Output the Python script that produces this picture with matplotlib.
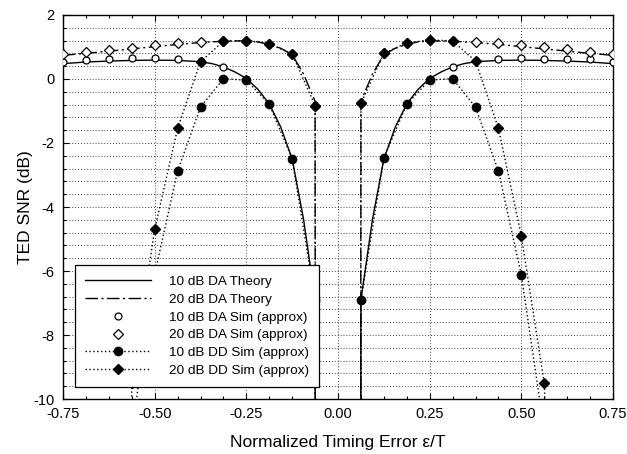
import matplotlib
matplotlib.use("Agg")
from matplotlib import pyplot as plt
from matplotlib.ticker import MultipleLocator, FormatStrFormatter
import numpy

plt.rcParams['font.family'] = ['Liberation Sans', 'DejaVu Sans']
plt.rcParams['axes.unicode_minus'] = False

# simulation x positions (normalized timing error)
sim_x = [-0.75, -0.6875, -0.625, -0.5625, -0.5, -0.4375, -0.375, -0.3125, -0.25, -0.1875, -0.125, -0.0625,
         0.0625, 0.125, 0.1875, 0.25, 0.3125, 0.375, 0.4375, 0.5, 0.5625, 0.625, 0.6875, 0.75]

# data aided sims (open markers)
da10_sim = [0.54, 0.59, 0.62, 0.65, 0.65, 0.62, 0.56, 0.36, 0.01, -0.79, -2.5, -6.9,
            -6.9, -2.47, -0.79, 0.0, 0.36, 0.56, 0.64, 0.67, 0.64, 0.64, 0.61, 0.54]
da20_sim = [0.77, 0.83, 0.91, 0.98, 1.05, 1.11, 1.17, 1.18, 1.20, 1.10, 0.78, -0.83,
            -0.76, 0.80, 1.13, 1.22, 1.19, 1.17, 1.13, 1.06, 0.99, 0.93, 0.85, 0.78]

# decision directed sims (filled markers), x=0 goes to -inf
dd_x = [-0.625, -0.5625, -0.5, -0.4375, -0.375, -0.3125, -0.25, -0.1875, -0.125, -0.0625, 0.0,
        0.0625, 0.125, 0.1875, 0.25, 0.3125, 0.375, 0.4375, 0.5, 0.5625, 0.625]
dd10_sim = [-30, -11.0, -6.1, -2.875, -0.88, 0.01, -0.04, -0.79, -2.5, -6.9, -1000,
            -6.9, -2.47, -0.79, -0.03, 0.01, -0.88, -2.875, -6.13, -11.0, -30]
dd20_sim = [-60, -9.5, -4.70, -1.54, 0.54, 1.18, 1.20, 1.10, 0.78, -0.83, -1000,
            -0.76, 0.80, 1.13, 1.22, 1.19, 0.56, -1.54, -4.91, -9.51, -30]

# theory curves
th_x = [-0.75, -0.6875, -0.625, -0.5625, -0.5, -0.4375, -0.375, -0.34375, -0.3125, -0.28125, -0.25,
        -0.21875, -0.1875, -0.15625, -0.125, -0.09375, -0.0625, 0.0,
        0.0625, 0.09375, 0.125, 0.15625, 0.1875, 0.21875, 0.25, 0.28125, 0.3125, 0.34375, 0.375,
        0.4375, 0.5, 0.5625, 0.625, 0.6875, 0.75]
th10 = [0.48, 0.53, 0.56, 0.58, 0.59, 0.58, 0.54, 0.48, 0.38, 0.22, 0.02,
        -0.32, -0.78, -1.5, -2.5, -4.4, -6.9, -1000,
        -6.9, -4.4, -2.5, -1.5, -0.78, -0.32, 0.02, 0.22, 0.38, 0.48, 0.54,
        0.58, 0.59, 0.58, 0.56, 0.53, 0.48]
th20 = [0.74, 0.80, 0.87, 0.94, 1.01, 1.08, 1.14, 1.16, 1.18, 1.19, 1.19,
        1.16, 1.08, 0.96, 0.76, 0.15, -0.7, -1000,
        -0.7, 0.15, 0.76, 0.96, 1.08, 1.16, 1.19, 1.19, 1.18, 1.16, 1.14,
        1.08, 1.01, 0.94, 0.87, 0.80, 0.74]


def main():
    fig = plt.figure(figsize=(6.27, 4.54), dpi=100)
    ax = fig.add_axes([0.1005, 0.1211, 0.8772, 0.8459])

    dashdot = (0, (9, 2.5, 1.5, 2.5))
    dotted = (0, (1, 1.8))

    ax.plot(th_x, th10, color='black', lw=1.0, ls='-', label='10 dB DA Theory', zorder=3)
    ax.plot(th_x, th20, color='black', lw=1.0, ls=dashdot, label='20 dB DA Theory', zorder=3)
    ax.plot(sim_x, da10_sim, ls='none', marker='o', ms=5, mfc='white', mec='black', mew=0.9,
            label='10 dB DA Sim (approx)', zorder=4)
    ax.plot(sim_x, da20_sim, ls='none', marker='D', ms=4.6, mfc='white', mec='black', mew=0.9,
            label='20 dB DA Sim (approx)', zorder=4)
    ax.plot(dd_x, dd10_sim, color='black', lw=1.0, ls=dotted, marker='o', ms=6, mfc='black',
            mec='black', label='10 dB DD Sim (approx)', zorder=5)
    ax.plot(dd_x, dd20_sim, color='black', lw=1.0, ls=dotted, marker='D', ms=5.2, mfc='black',
            mec='black', label='20 dB DD Sim (approx)', zorder=5)

    ax.set_xlim(-0.75, 0.75)
    ax.set_ylim(-10, 2)
    ax.xaxis.set_major_locator(MultipleLocator(0.25))
    ax.xaxis.set_minor_locator(MultipleLocator(0.0625))
    ax.xaxis.set_major_formatter(FormatStrFormatter('%.2f'))
    ax.yaxis.set_major_locator(MultipleLocator(2))
    ax.yaxis.set_minor_locator(MultipleLocator(0.4))

    ax.tick_params(which='both', direction='in', top=True, right=False, labelsize=10.5, width=0.8)
    ax.tick_params(which='major', length=4.5, pad=6)
    ax.tick_params(which='minor', length=2.5)

    # dotted grid: horizontal every 0.4 dB, vertical at major ticks
    ax.yaxis.grid(True, which='both', color='0.25', lw=0.7, ls=(0, (1, 2)))
    ax.xaxis.grid(True, which='major', color='0.25', lw=0.7, ls=(0, (1, 2)))
    ax.set_axisbelow(True)
    for s in ax.spines.values():
        s.set_linewidth(1.0)

    ax.set_xlabel('Normalized Timing Error ε/T', fontsize=12.5, labelpad=10)
    ax.set_ylabel('TED SNR (dB)', fontsize=12.5, labelpad=0)

    leg = ax.legend(loc='lower left', bbox_to_anchor=(0.0218, 0.031), borderaxespad=0,
                    fontsize=9.7, numpoints=1, handlelength=4.9, handletextpad=1.3,
                    labelspacing=0.4, borderpad=0.75, fancybox=False, framealpha=1,
                    edgecolor='black')
    leg.get_frame().set_linewidth(0.9)
    leg.set_zorder(10)

    fig.savefig('out.png', dpi=100)


if __name__ == "__main__":
    main()
